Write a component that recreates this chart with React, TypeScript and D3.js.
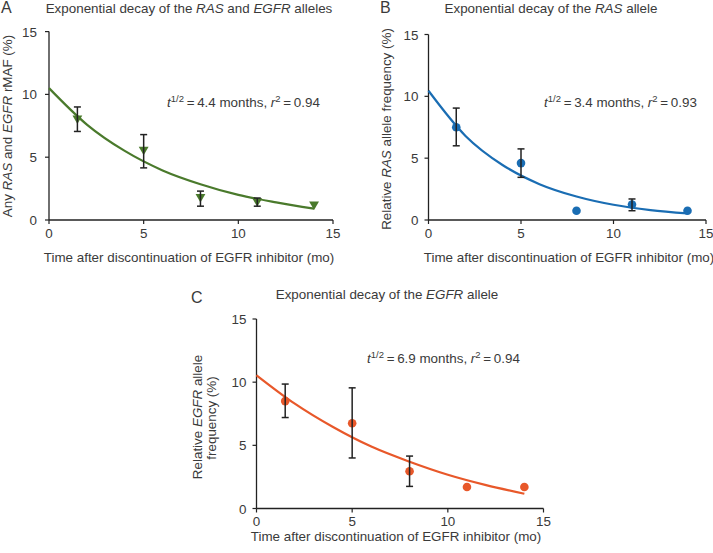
import React from "react";
import * as d3 from "d3";

// ---- data ----
const months = [1.5, 5, 8, 11, 14];

const rasEgfrMean = [8.1, 5.6, 1.85, 1.5, 1.25];
const rasEgfrLow: (number | null)[] = [7.05, 4.15, 1.1, 1.1, null];
const rasEgfrHigh: (number | null)[] = [9.0, 6.8, 2.3, 1.75, null];

const rasMean = [7.5, 4.6, 0.75, 1.25, 0.75];
const rasLow: (number | null)[] = [6.0, 3.45, null, 0.75, null];
const rasHigh: (number | null)[] = [9.05, 5.75, null, 1.7, null];

const egfrMean = [8.5, 6.75, 2.95, 1.7, 1.7];
const egfrLow: (number | null)[] = [7.2, 4.0, 1.75, null, null];
const egfrHigh: (number | null)[] = [9.85, 9.55, 4.15, null, null];

// fitted curves
const fitMonths = [0, 2, 4, 6, 8, 10, 12, 14];
const fitRasEgfr = [10.5, 7.6, 5.5, 3.95, 2.85, 2.0, 1.4, 0.9];
const fitRas = [10.45, 6.8, 4.45, 2.9, 1.9, 1.23, 0.8, 0.53];
const fitEgfr = [10.55, 8.3, 6.45, 4.9, 3.7, 2.67, 1.85, 1.17];

const xTicks = [0, 5, 10, 15];
const yTicks = [0, 5, 10, 15];

const TEXT = "#3a3a3a";
const FONT = "'Liberation Sans', Arial, sans-serif";
const FS = 13.4;
const TICK_FS = 13.4;

type PanelProps = {
  x0: number; x1: number; y0: number; y1: number;
  mean: number[]; low: (number | null)[]; high: (number | null)[];
  fit: number[]; color: string; marker: "tri" | "circle";
  tickLabelDy: number; tickLabelGap: number;
};

function Panel(p: PanelProps) {
  const x = d3.scaleLinear().domain([0, 15]).range([p.x0, p.x1]);
  const y = d3.scaleLinear().domain([0, 15]).range([p.y0, p.y1]);
  const line = d3
    .line<number>()
    .x((_, i) => x(fitMonths[i]))
    .y((d) => y(d))
    .curve(d3.curveMonotoneX);
  const tri = d3.symbol().type(d3.symbolTriangle).size(42)();
  return (
    <g>
      <line x1={p.x0} x2={p.x0} y1={y(0)} y2={y(15)} stroke="#222" strokeWidth={1.3} />
      <line x1={p.x0} x2={p.x1} y1={y(0)} y2={y(0)} stroke="#222" strokeWidth={1.3} />
      {yTicks.map((t) => (
        <g key={"y" + t}>
          <line x1={p.x0 - 4} x2={p.x0} y1={y(t)} y2={y(t)} stroke="#222" strokeWidth={1.2} />
          <text x={p.x0 - p.tickLabelGap} y={y(t) + 5} textAnchor="end" fontSize={TICK_FS} fill={TEXT} fontFamily={FONT}>
            {t}
          </text>
        </g>
      ))}
      {xTicks.map((t) => (
        <g key={"x" + t}>
          <line x1={x(t)} x2={x(t)} y1={y(0)} y2={y(0) + 4} stroke="#222" strokeWidth={1.2} />
          <text x={x(t)} y={y(0) + p.tickLabelDy} textAnchor="middle" fontSize={TICK_FS} fill={TEXT} fontFamily={FONT}>
            {t}
          </text>
        </g>
      ))}
      <path d={line(p.fit) || ""} fill="none" stroke={p.color} strokeWidth={2.2} />
      {months.map((m, i) =>
        p.marker === "tri" ? (
          <path key={"m" + i} d={tri || ""} fill={p.color}
            transform={`translate(${x(m)},${y(p.mean[i])}) rotate(180)`} />
        ) : (
          <circle key={"m" + i} cx={x(m)} cy={y(p.mean[i])} r={4.3} fill={p.color} />
        )
      )}
      {months.map((m, i) =>
        p.low[i] != null && p.high[i] != null ? (
          <g key={"e" + i} stroke="#222" strokeWidth={1.5}>
            <line x1={x(m)} x2={x(m)} y1={y(p.low[i] as number)} y2={y(p.high[i] as number)} />
            <line x1={x(m) - 3.5} x2={x(m) + 3.5} y1={y(p.low[i] as number)} y2={y(p.low[i] as number)} />
            <line x1={x(m) - 3.5} x2={x(m) + 3.5} y1={y(p.high[i] as number)} y2={y(p.high[i] as number)} />
          </g>
        ) : null
      )}
    </g>
  );
}

function Annot({ x, y, half, r2 }: { x: number; y: number; half: string; r2: string }) {
  return (
    <text x={x} y={y} fontSize={FS} fill={TEXT} fontFamily={FONT}>
      <tspan fontStyle="italic">t</tspan>
      <tspan fontSize={9.5} dy={-5.5}>1/2</tspan>
      <tspan dy={5.5}>{"\u2009=\u2009" + half + " months, "}</tspan>
      <tspan fontStyle="italic">r</tspan>
      <tspan fontSize={9.5} dy={-5.5}>2</tspan>
      <tspan dy={5.5}>{"\u2009=\u2009" + r2}</tspan>
    </text>
  );
}

export default function App() {
  const t = { fontSize: FS, fill: TEXT, fontFamily: FONT } as const;
  return (
    <svg width={713} height={553} style={{ position: "absolute", left: 0, top: 0, background: "#fff" }}>
      {/* Panel A */}
      <text x={1} y={13} fontSize={16} fill={TEXT} fontFamily={FONT}>A</text>
      <text x={189} y={13} textAnchor="middle" {...t}>
        Exponential decay of the <tspan fontStyle="italic">RAS</tspan> and <tspan fontStyle="italic">EGFR</tspan> alleles
      </text>
      <text transform="translate(12,126) rotate(-90)" textAnchor="middle" {...t}>
        Any <tspan fontStyle="italic">RAS</tspan> and <tspan fontStyle="italic">EGFR</tspan> rMAF (%)
      </text>
      <text x={189} y={262} textAnchor="middle" {...t}>Time after discontinuation of EGFR inhibitor (mo)</text>
      <Panel x0={49} x1={333} y0={220} y1={31.6} mean={rasEgfrMean} low={rasEgfrLow} high={rasEgfrHigh}
        fit={fitRasEgfr} color="#4a7a2c" marker="tri" tickLabelDy={18} tickLabelGap={12} />
      <Annot x={167} y={107} half="4.4" r2="0.94" />

      {/* Panel B */}
      <text x={380} y={13} fontSize={16} fill={TEXT} fontFamily={FONT}>B</text>
      <text x={551} y={13} textAnchor="middle" {...t}>
        Exponential decay of the <tspan fontStyle="italic">RAS</tspan> allele
      </text>
      <text transform="translate(391,129) rotate(-90)" textAnchor="middle" {...t}>
        Relative <tspan fontStyle="italic">RAS</tspan> allele frequency (%)
      </text>
      <text x={569} y={262} textAnchor="middle" {...t}>Time after discontinuation of EGFR inhibitor (mo)</text>
      <Panel x0={428.5} x1={706} y0={220} y1={34.5} mean={rasMean} low={rasLow} high={rasHigh}
        fit={fitRas} color="#1a6db3" marker="circle" tickLabelDy={18} tickLabelGap={10} />
      <Annot x={544} y={107} half="3.4" r2="0.93" />

      {/* Panel C */}
      <text x={191} y={303} fontSize={16} fill={TEXT} fontFamily={FONT}>C</text>
      <text x={387} y={299} textAnchor="middle" {...t}>
        Exponential decay of the <tspan fontStyle="italic">EGFR</tspan> allele
      </text>
      <text transform="translate(202,417) rotate(-90)" textAnchor="middle" {...t}>
        Relative <tspan fontStyle="italic">EGFR</tspan> allele
      </text>
      <text transform="translate(216,418) rotate(-90)" textAnchor="middle" {...t}>
        frequency (%)
      </text>
      <text x={396} y={541} textAnchor="middle" {...t}>Time after discontinuation of EGFR inhibitor (mo)</text>
      <Panel x0={256.5} x1={543.5} y0={508.5} y1={319} mean={egfrMean} low={egfrLow} high={egfrHigh}
        fit={fitEgfr} color="#e8582a" marker="circle" tickLabelDy={17} tickLabelGap={10} />
      <Annot x={367} y={363} half="6.9" r2="0.94" />
    </svg>
  );
}
